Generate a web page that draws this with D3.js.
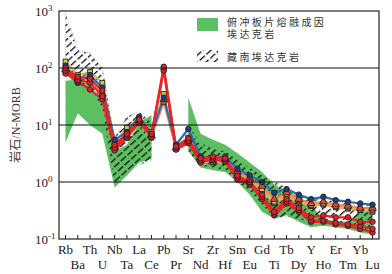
<!DOCTYPE html>
<meta charset="utf-8">
<style>
    body { margin: 0; background: #fff; }
    .tick-label { font: 13px "Liberation Serif", serif; fill: #222; }
    .leg { font: 10px "Noto Sans CJK SC", sans-serif; fill: #333; letter-spacing: 2.4px; }
</style>
<body>
<script src="https://cdnjs.cloudflare.com/ajax/libs/d3/7.8.5/d3.min.js"></script>
<script>
    // elements in spider diagram order
    var elements = ["Rb","Ba","Th","U","Nb","Ta","La","Ce","Pb","Pr","Sr","Nd","Zr","Hf",
        "Sm","Eu","Gd","Ti","Tb","Dy","Y","Ho","Er","Tm","Yb","Lu"];
    var yTicks = [0.1, 1, 10, 100, 1000];
    var yExp = ["-1", "0", "1", "2", "3"];

    // slab melt adakite field (green)
    var greenTop = [60, 62, 52, 24, 3.5, 4.5, 11, 15, null, null, 30, 7, 5.5, 4.5, 3.2, 2.2, 1.5, 0.9, 0.7, 0.55, 0.4, 0.22, 0.21, 0.2, 0.3, 0.32];
    var greenBot = [5, 16, 10, 7, 0.8, 1.3, 2.2, 2.5, null, null, 3.5, 1.8, 1.6, 1.5, 1.0, 0.6, 0.3, 0.23, 0.26, 0.2, 0.16, 0.17, 0.16, 0.15, 0.13, 0.12];
    // south Tibet adakite field (hatched)
    var hatchTop = [900, 210, 180, 100, 6, 14, 17, 11, null, null, 10, 5, 3.8, 3.5, 2.4, 1.8, 1.3, 1.0, 0.8, 0.6, 0.5, 0.5, 0.45, 0.42, 0.4, 0.4];
    var hatchBot = [70, 50, 45, 20, 0.85, 1.5, 2.0, 2.4, null, null, 3.5, 1.9, 1.8, 1.6, 1.0, 0.7, 0.4, 0.23, 0.25, 0.22, 0.2, 0.2, 0.2, 0.18, 0.14, 0.13];

    // samples
    var salmon = [85, 60, 60, 30, 3.8, 6, 11, 6, 25, 3.8, 5, 2.3, 2.2, 2.3, 1.3, 1.0, 0.7, 0.42, 0.55, 0.45, 0.38, 0.4, 0.36, 0.34, 0.32, 0.3];
    var olive = [130, 75, 85, 55, 4.8, 9, 13, 7.5, 35, 4.3, 6, 2.6, 2.3, 2.4, 1.4, 1.1, 0.75, 0.45, 0.6, 0.48, 0.4, 0.42, 0.38, 0.36, 0.33, 0.33];
    var orange = [95, 65, 70, 35, 4.2, 6.5, 12, 6.5, 28, 4.0, 5.5, 2.5, 2.4, 2.5, 1.5, 1.15, 0.85, 0.5, 0.65, 0.5, 0.42, 0.45, 0.4, 0.38, 0.35, 0.35];
    var blue = [110, 55, 75, 45, 5.5, 7.5, 14, 7, 30, 4.5, 8.5, 2.8, 2.6, 2.8, 1.7, 1.3, 1.0, 0.65, 0.75, 0.6, 0.5, 0.55, 0.48, 0.45, 0.42, 0.4];
    var red3 = [80, 58, 42, 28, 3.6, 6, 11, 6.2, 95, 3.7, 4.8, 2.2, 2.5, 2.3, 1.1, 0.9, 0.5, 0.26, 0.42, 0.3, 0.2, 0.2, 0.18, 0.17, 0.15, 0.13];
    var red2 = [90, 62, 55, 32, 4, 6.5, 12, 6.8, 90, 4.0, 5.2, 2.4, 2.7, 2.5, 1.2, 0.95, 0.55, 0.28, 0.45, 0.32, 0.21, 0.21, 0.19, 0.18, 0.17, 0.15];
    var red1 = [100, 70, 65, 40, 4.5, 7, 12.5, 7, 105, 4.2, 5.8, 2.6, 2.8, 2.6, 1.3, 1.0, 0.6, 0.3, 0.5, 0.35, 0.24, 0.26, 0.24, 0.24, 0.2, 0.2];

    var series = [
        {v: salmon, line: "#e9a07a", fill: "#c0603a", sym: d3.symbolSquare},
        {v: olive, line: "#d3b85a", fill: "#c8c84a", sym: d3.symbolSquare},
        {v: orange, line: "#f08a55", fill: "#e2483a", sym: d3.symbolTriangle},
        {v: blue, line: "#2b6cb3", fill: "#1f3f7a", sym: d3.symbolCircle},
        {v: red3, line: "#e8262a", fill: "#e41e26", sym: d3.symbolCircle},
        {v: red2, line: "#e8262a", fill: "#e41e26", sym: d3.symbolCircle},
        {v: red1, line: "#e8262a", fill: "#e41e26", sym: d3.symbolCircle}
    ];

    var W = 392, H = 274;
    var pL = 59, pR = 379, pT = 11, pB = 239;

    var x = d3.scalePoint().domain(elements).range([pL, pR]).padding(0.53);
    var y = d3.scaleLog().domain([0.1, 1000]).range([pB, pT]);

    var svg = d3.select("body").append("svg")
        .attr("width", W).attr("height", H);

    var defs = svg.append("defs");
    defs.append("clipPath").attr("id", "clip")
        .append("rect").attr("x", pL).attr("y", pT)
        .attr("width", pR - pL).attr("height", pB - pT);

    var pat = defs.append("pattern").attr("id", "hatch")
        .attr("patternUnits", "userSpaceOnUse")
        .attr("width", 9).attr("height", 5.5)
        .attr("patternTransform", "rotate(-42)");
    pat.append("line").attr("x1", 0).attr("y1", 2.5).attr("x2", 7).attr("y2", 2.5)
        .attr("stroke", "#111").attr("stroke-width", 1.3);

    var plot = svg.append("g").attr("clip-path", "url(#clip)");

    function band(lo, hi) {
        var rows = elements.map(function(e, i) { return {e: e, lo: lo[i], hi: hi[i]}; });
        return d3.area()
            .defined(function(d) { return d.lo != null; })
            .x(function(d) { return x(d.e); })
            .y0(function(d) { return y(d.lo); })
            .y1(function(d) { return y(d.hi); })(rows);
    }

    plot.append("path").attr("d", band(greenBot, greenTop))
        .attr("fill", "#5cbf60");
    plot.append("path").attr("d", band(hatchBot, hatchTop))
        .attr("fill", "url(#hatch)")
        .attr("stroke", "#999").attr("stroke-width", 0.7)
        .attr("stroke-dasharray", "1,1.5");

    // gridlines
    svg.selectAll(".grid").data([1, 10, 100]).enter().append("line")
        .attr("x1", pL).attr("x2", pR)
        .attr("y1", function(d) { return y(d); }).attr("y2", function(d) { return y(d); })
        .attr("stroke", "#111").attr("stroke-width", 1.1);

    var line = d3.line()
        .x(function(d, i) { return x(elements[i]); })
        .y(function(d) { return y(d); });

    series.forEach(function(s) {
        plot.append("path").attr("d", line(s.v))
            .attr("fill", "none").attr("stroke", s.line)
            .attr("stroke-width", 2.2).attr("stroke-linejoin", "round");
    });
    series.forEach(function(s) {
        plot.selectAll(null).data(s.v).enter().append("path")
            .attr("d", d3.symbol().type(s.sym).size(s.sym === d3.symbolTriangle ? 26 : 24))
            .attr("transform", function(d, i) { return "translate(" + x(elements[i]) + "," + y(d) + ")"; })
            .attr("fill", s.fill).attr("stroke", "#222").attr("stroke-width", 0.9);
    });

    // frame
    svg.append("rect").attr("x", pL).attr("y", pT)
        .attr("width", pR - pL).attr("height", pB - pT)
        .attr("fill", "none").attr("stroke", "#222").attr("stroke-width", 1.2);

    // bottom ticks
    svg.selectAll(".xt").data(elements).enter().append("line")
        .attr("x1", function(d) { return x(d); }).attr("x2", function(d) { return x(d); })
        .attr("y1", pB).attr("y2", pB - 4)
        .attr("stroke", "#222").attr("stroke-width", 1);

    svg.selectAll(".xl").data(elements).enter().append("text")
        .attr("class", "tick-label")
        .attr("x", function(d) { return x(d); })
        .attr("y", function(d, i) { return i % 2 === 0 ? 254 : 269; })
        .attr("text-anchor", "middle")
        .text(function(d) { return d; });

    // y labels
    var yl = svg.selectAll(".yl").data(yTicks).enter().append("text")
        .attr("class", "tick-label")
        .attr("x", 35)
        .attr("y", function(d) { return y(d) + 5; });
    yl.append("tspan").text("10");
    yl.append("tspan").attr("dy", -5).style("font-size", "9px")
        .text(function(d, i) { return yExp[i]; });

    svg.append("text")
        .attr("transform", "translate(20,125) rotate(-90)")
        .attr("text-anchor", "middle")
        .style("font", "12px 'Liberation Serif', 'Noto Sans CJK SC', serif")
        .style("fill", "#4a3a2c")
        .text("岩石/N-MORB");

    // legend
    svg.append("rect").attr("x", 197).attr("y", 18).attr("width", 21).attr("height", 13)
        .attr("fill", "#5cbf60");
    svg.append("text").attr("class", "leg").attr("x", 227).attr("y", 26).text("俯冲板片熔融成因");
    svg.append("text").attr("class", "leg").attr("x", 227).attr("y", 38).text("埃达克岩");
    svg.append("rect").attr("x", 197).attr("y", 50).attr("width", 21).attr("height", 12)
        .attr("fill", "url(#hatch)");
    svg.append("text").attr("class", "leg").attr("x", 227).attr("y", 61).text("藏南埃达克岩");
</script>
